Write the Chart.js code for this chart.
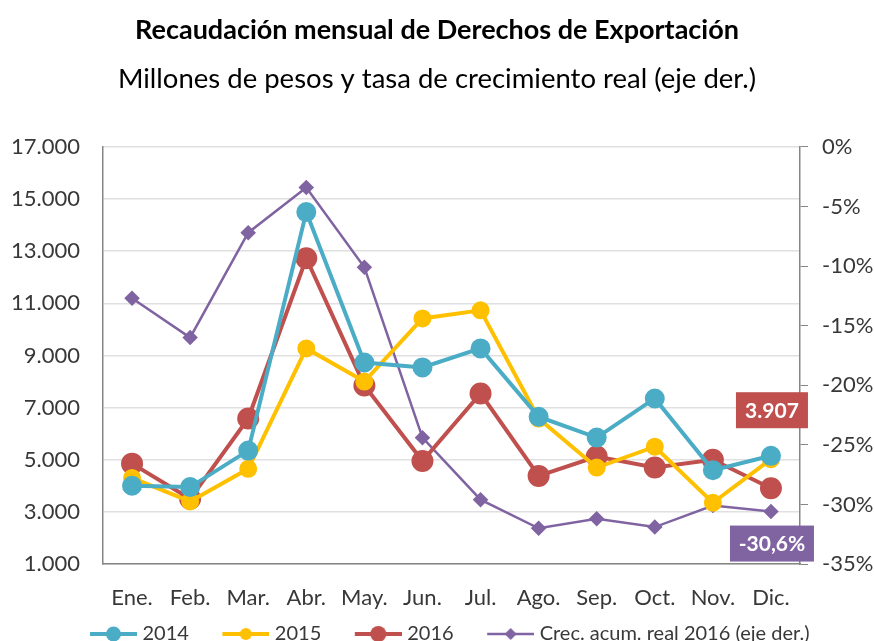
<!DOCTYPE html>
<html>
<head>
<meta charset="utf-8">
<script src="https://cdn.jsdelivr.net/npm/chart.js@4.4.0/dist/chart.umd.min.js"></script>
<style>
  html, body { margin: 0; padding: 0; background: #fff; }
  #wrap { width: 874px; height: 641px; }
</style>
</head>
<body>
<div id="wrap"><canvas id="chart" width="874" height="641"></canvas></div>
<script>
// datos
const months = ['Ene.', 'Feb.', 'Mar.', 'Abr.', 'May.', 'Jun.', 'Jul.', 'Ago.', 'Sep.', 'Oct.', 'Nov.', 'Dic.'];
const rec2014 = [4000, 3950, 5350, 14500, 8730, 8540, 9270, 6650, 5850, 7350, 4600, 5150];
const rec2015 = [4300, 3400, 4650, 9270, 8000, 10420, 10730, 6580, 4700, 5500, 3350, 5020];
const rec2016 = [4850, 3500, 6580, 12730, 7850, 4950, 7540, 4380, 5120, 4700, 5000, 3907];
const crecAcum2016 = [-12.7, -16.0, -7.2, -3.4, -10.1, -24.4, -29.6, -32.0, -31.2, -31.9, -30.1, -30.6];

const FONT = 'Lato';
const TEXT = '#383838';

function miles(v) {
  return String(Math.round(v)).replace(/\B(?=(\d{3})+(?!\d))/g, '.');
}

// icono de leyenda: linea + marcador, con margen transparente a la izquierda
function legendIcon(color, lineWidth, style, radius) {
  const c = document.createElement('canvas');
  c.width = 77;
  c.height = 20;
  const g = c.getContext('2d');
  g.strokeStyle = color;
  g.fillStyle = color;
  g.lineWidth = lineWidth;
  g.beginPath();
  g.moveTo(30, 10);
  g.lineTo(77, 10);
  g.stroke();
  g.beginPath();
  const cx = 53.5;
  if (style === 'diamond') {
    g.moveTo(cx, 10 - radius);
    g.lineTo(cx + radius, 10);
    g.lineTo(cx, 10 + radius);
    g.lineTo(cx - radius, 10);
    g.closePath();
  } else {
    g.arc(cx, 10, radius, 0, Math.PI * 2);
  }
  g.fill();
  return c;
}

const icons = [
  legendIcon('#4BACC6', 4, 'circle', 7.5),
  legendIcon('#FFC000', 4, 'circle', 6),
  legendIcon('#C0504D', 4, 'circle', 8),
  legendIcon('#8064A2', 2.5, 'diamond', 6)
];

// etiquetas del ultimo mes (Dic.)
const lastLabels = {
  id: 'lastLabels',
  afterDatasetsDraw(chart) {
    const ctx = chart.ctx;
    const boxes = [
      { ds: 2, text: miles(rec2016[11]), color: '#C0504D', dy: -78, w: 72 },
      { ds: 3, text: String(crecAcum2016[11]).replace('.', ',') + '%', color: '#8064A2', dy: 32, w: 84 }
    ];
    ctx.save();
    ctx.font = 'bold 21px ' + FONT;
    ctx.textAlign = 'center';
    ctx.textBaseline = 'middle';
    boxes.forEach(b => {
      const pt = chart.getDatasetMeta(b.ds).data[11];
      const cx = pt.x + 1;
      const cy = pt.y + b.dy;
      ctx.fillStyle = b.color;
      ctx.fillRect(cx - b.w / 2, cy - 18, b.w, 36);
      ctx.fillStyle = '#ffffff';
      ctx.fillText(b.text, cx, cy + 1);
    });
    ctx.restore();
  }
};

const ctx = document.getElementById('chart').getContext('2d');

new Chart(ctx, {
  type: 'line',
  data: {
    labels: months,
    datasets: [
      {
        label: '2014',
        data: rec2014,
        borderColor: '#4BACC6',
        backgroundColor: '#4BACC6',
        borderWidth: 4,
        pointRadius: 8,
        yAxisID: 'y'
      },
      {
        label: '2015',
        data: rec2015,
        borderColor: '#FFC000',
        backgroundColor: '#FFC000',
        borderWidth: 4,
        pointRadius: 7,
        yAxisID: 'y'
      },
      {
        label: '2016',
        data: rec2016,
        borderColor: '#C0504D',
        backgroundColor: '#C0504D',
        borderWidth: 4,
        pointRadius: 9,
        yAxisID: 'y'
      },
      {
        label: 'Crec. acum. real 2016 (eje der.)',
        data: crecAcum2016,
        borderColor: '#8064A2',
        backgroundColor: '#8064A2',
        borderWidth: 2.5,
        pointStyle: 'rectRot',
        pointRadius: 6,
        yAxisID: 'y1'
      }
    ]
  },
  options: {
    responsive: false,
    animation: false,
    layout: { padding: { top: 0, left: 0, right: 0, bottom: -13 } },
    scales: {
      x: {
        offset: true,
        grid: { display: false, drawTicks: false },
        border: { color: '#868686', width: 1.5 },
        ticks: { color: TEXT, font: { family: FONT, size: 22 }, padding: 21 },
        afterFit: s => { s.height = 52; }
      },
      y: {
        position: 'left',
        min: 1000,
        max: 17000,
        border: { color: '#868686', width: 1.5 },
        grid: { color: '#e0e0e0', lineWidth: 1.5, drawTicks: false },
        ticks: {
          stepSize: 2000,
          color: TEXT,
          font: { family: FONT, size: 22 },
          padding: 23,
          callback: v => miles(v)
        },
        afterFit: s => { s.width = 103; }
      },
      y1: {
        position: 'right',
        min: -35,
        max: 0,
        border: { color: '#868686', width: 1.5 },
        grid: { drawOnChartArea: false, color: '#868686', tickLength: 8 },
        ticks: {
          stepSize: 5,
          color: TEXT,
          font: { family: FONT, size: 22 },
          padding: 14,
          callback: v => v + '%'
        },
        afterFit: s => { s.width = 74; }
      }
    },
    plugins: {
      title: {
        display: true,
        text: 'Recaudación mensual de Derechos de Exportación',
        color: '#000000',
        font: { family: FONT, size: 27, weight: 'bold' },
        padding: { top: 14, bottom: 0 }
      },
      subtitle: {
        display: true,
        text: 'Millones de pesos y tasa de crecimiento real (eje der.)',
        color: '#000000',
        font: { family: FONT, size: 27.5, weight: 'normal' },
        padding: { top: 16, bottom: 51.5 }
      },
      legend: {
        position: 'bottom',
        labels: {
          usePointStyle: true,
          pointStyleWidth: 68,
          color: TEXT,
          font: { family: FONT, size: 20 },
          padding: 8,
          generateLabels(chart) {
            const items = Chart.defaults.plugins.legend.labels.generateLabels(chart);
            items.forEach((it, i) => { it.pointStyle = icons[i]; });
            return items;
          }
        }
      },
      tooltip: { enabled: false }
    }
  },
  plugins: [lastLabels]
});
</script>
</body>
</html>
